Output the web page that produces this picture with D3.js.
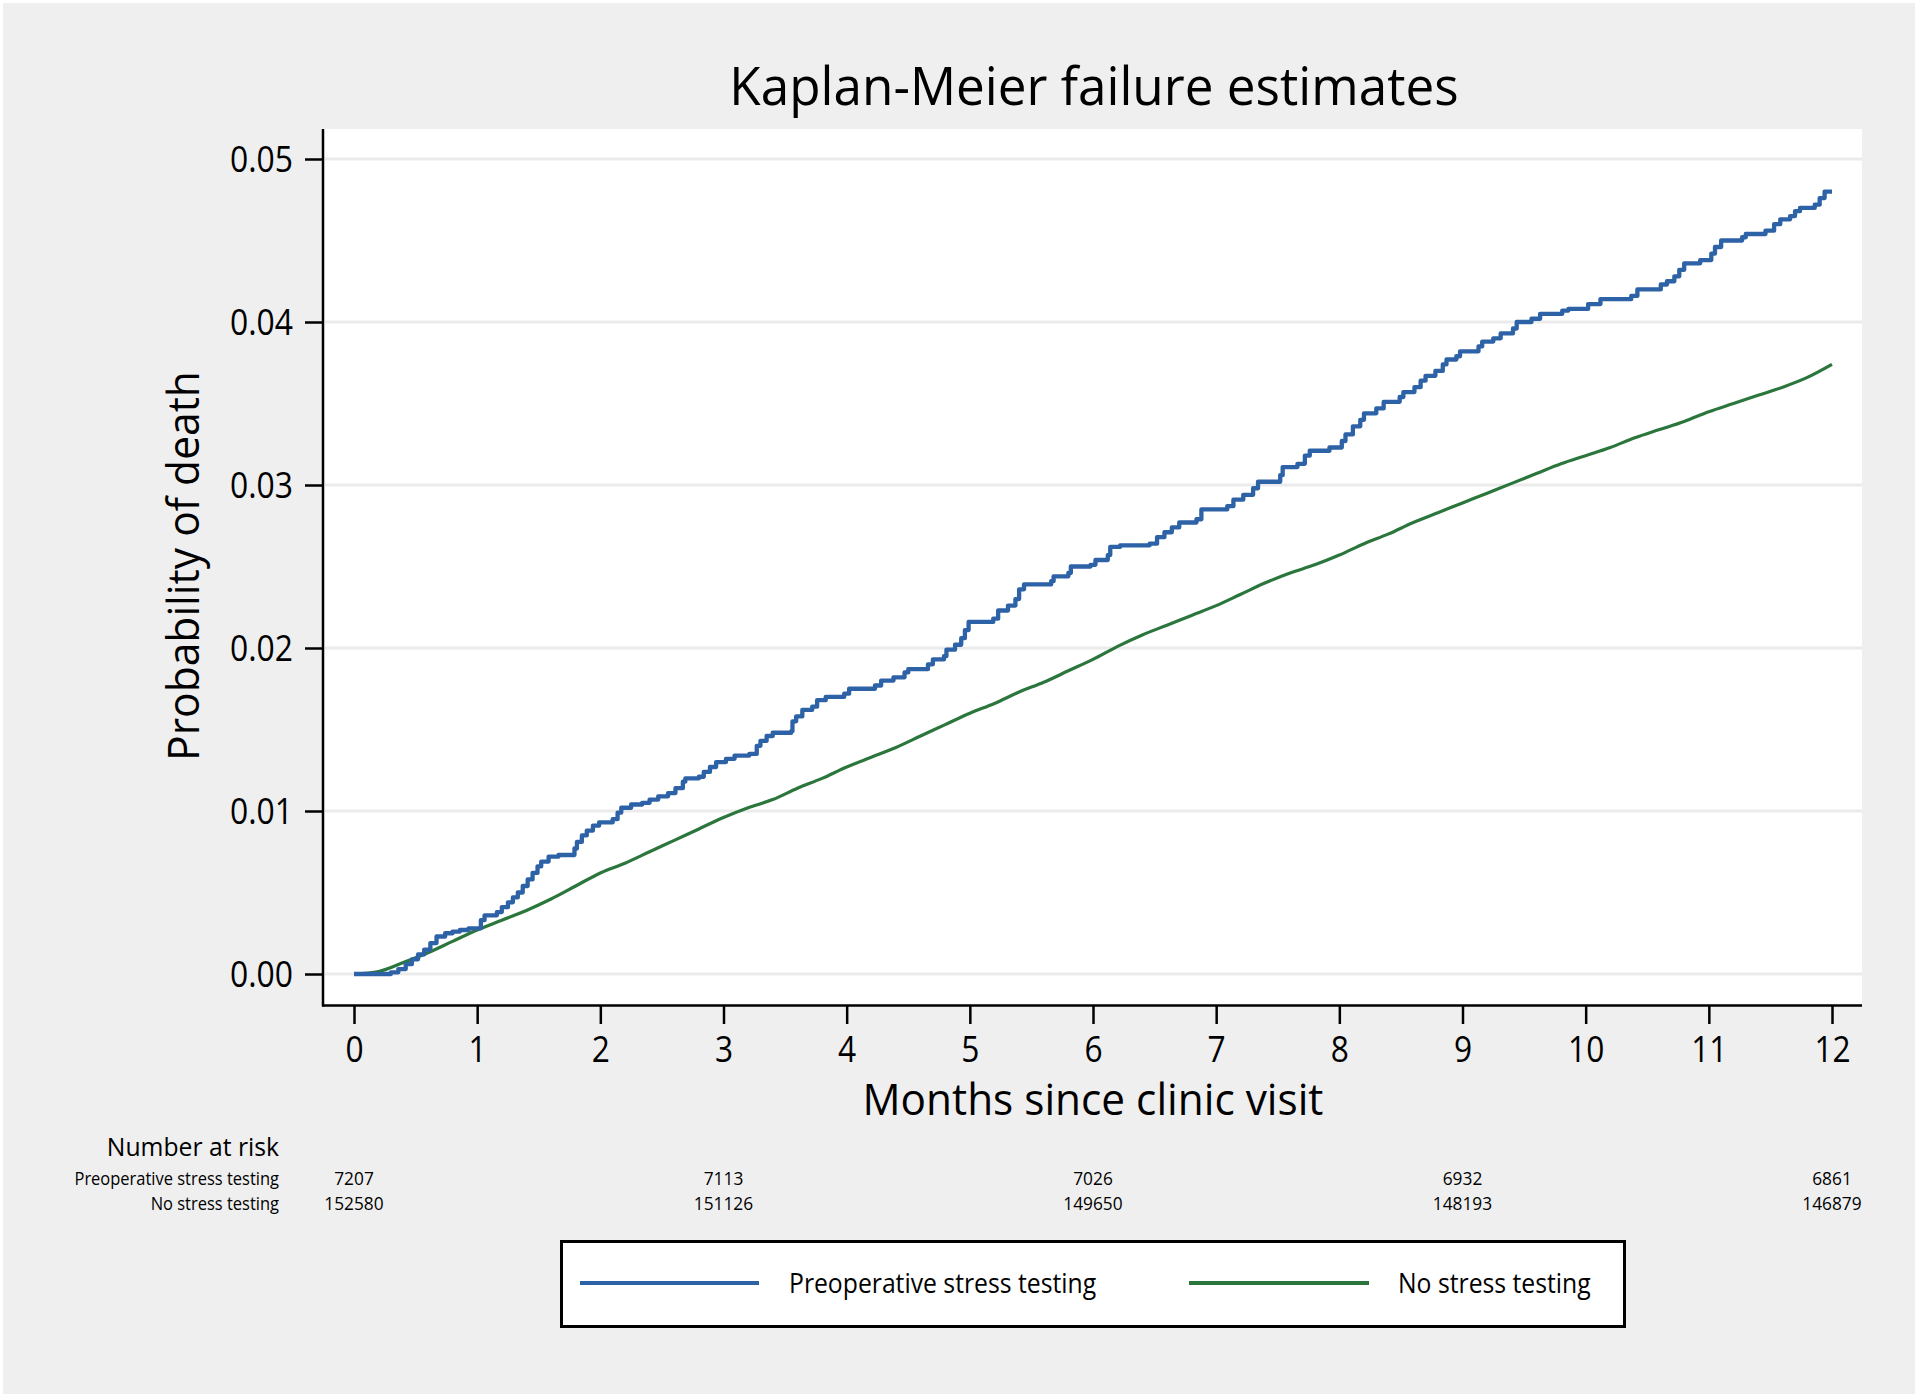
<!DOCTYPE html>
<html>
<head>
<meta charset="utf-8">
<script src="https://cdn.jsdelivr.net/npm/d3@7"></script>
<style>
  html, body { margin: 0; padding: 0; background: #ffffff; }
  svg { display: block; }
  text { font-family: "Open Sans", "Noto Sans", sans-serif; fill: #000; }
</style>
</head>
<body>
<svg id="chart" width="1920" height="1400"></svg>
<script>
// ---------------- DATA ----------------
const chartTitle = "Kaplan-Meier failure estimates";
const xAxisTitle = "Months since clinic visit";
const yAxisTitle = "Probability of death";
const seriesNames = ["Preoperative stress testing", "No stress testing"];

const xTicks = [0, 1, 2, 3, 4, 5, 6, 7, 8, 9, 10, 11, 12];
const yTicks = [0, 0.01, 0.02, 0.03, 0.04, 0.05];

// Preoperative stress testing: KM failure estimate (step function)
const stressTime = [0, 0.30, 0.36, 0.42, 0.47, 0.52, 0.57, 0.62, 0.67, 0.74, 0.80, 0.86, 0.93, 1.03, 1.06, 1.16, 1.20, 1.25, 1.29, 1.33, 1.37, 1.41, 1.45, 1.49, 1.52, 1.58, 1.66, 1.79, 1.81, 1.85, 1.89, 1.94, 1.99, 2.10, 2.14, 2.17, 2.25, 2.34, 2.40, 2.47, 2.55, 2.61, 2.67, 2.69, 2.80, 2.84, 2.89, 2.94, 3.02, 3.09, 3.21, 3.27, 3.30, 3.35, 3.40, 3.55, 3.56, 3.59, 3.64, 3.72, 3.76, 3.83, 3.98, 4.02, 4.23, 4.28, 4.38, 4.47, 4.50, 4.66, 4.70, 4.79, 4.81, 4.88, 4.93, 4.96, 4.99, 5.19, 5.23, 5.31, 5.37, 5.40, 5.44, 5.66, 5.68, 5.80, 5.82, 5.98, 6.02, 6.12, 6.14, 6.22, 6.46, 6.52, 6.58, 6.64, 6.70, 6.84, 6.88, 7.09, 7.14, 7.22, 7.30, 7.34, 7.52, 7.54, 7.66, 7.72, 7.76, 7.92, 8.02, 8.05, 8.11, 8.17, 8.20, 8.30, 8.36, 8.49, 8.52, 8.61, 8.66, 8.70, 8.78, 8.84, 8.87, 8.95, 8.98, 9.13, 9.16, 9.25, 9.31, 9.41, 9.44, 9.56, 9.63, 9.81, 9.86, 10.02, 10.12, 10.37, 10.42, 10.61, 10.66, 10.72, 10.76, 10.80, 10.93, 11.02, 11.05, 11.10, 11.27, 11.30, 11.46, 11.53, 11.58, 11.66, 11.70, 11.74, 11.86, 11.90, 11.94, 12.00];
const stressValue = [0, 0.0001, 0.0003, 0.0006, 0.0009, 0.0012, 0.0015, 0.0019, 0.0023, 0.0025, 0.0026, 0.0027, 0.0028, 0.0033, 0.0036, 0.0038, 0.0041, 0.0044, 0.0047, 0.0050, 0.0054, 0.0058, 0.0062, 0.0066, 0.0069, 0.0072, 0.0073, 0.0077, 0.0081, 0.0085, 0.0088, 0.0091, 0.0093, 0.0095, 0.0099, 0.0102, 0.0104, 0.0105, 0.0107, 0.0109, 0.0111, 0.0114, 0.0118, 0.0120, 0.0121, 0.0124, 0.0127, 0.0130, 0.0132, 0.0134, 0.0135, 0.0140, 0.0143, 0.0146, 0.0148, 0.0149, 0.0155, 0.0158, 0.0162, 0.0164, 0.0168, 0.0170, 0.0172, 0.0175, 0.0177, 0.0180, 0.0182, 0.0185, 0.0187, 0.0190, 0.0193, 0.0195, 0.0199, 0.0202, 0.0206, 0.0211, 0.0216, 0.0218, 0.0223, 0.0226, 0.0230, 0.0236, 0.0239, 0.0241, 0.0244, 0.0246, 0.0250, 0.0251, 0.0254, 0.0257, 0.0262, 0.0263, 0.0264, 0.0268, 0.0271, 0.0274, 0.0277, 0.0279, 0.0285, 0.0287, 0.0291, 0.0294, 0.0298, 0.0302, 0.0306, 0.0311, 0.0313, 0.0318, 0.0321, 0.0323, 0.0327, 0.0331, 0.0336, 0.0340, 0.0344, 0.0347, 0.0351, 0.0354, 0.0357, 0.0360, 0.0364, 0.0367, 0.0370, 0.0374, 0.0377, 0.0379, 0.0382, 0.0385, 0.0388, 0.0390, 0.0393, 0.0396, 0.0400, 0.0402, 0.0405, 0.0407, 0.0408, 0.0411, 0.0414, 0.0416, 0.0420, 0.0423, 0.0425, 0.0428, 0.0432, 0.0436, 0.0438, 0.0442, 0.0446, 0.0450, 0.0452, 0.0454, 0.0456, 0.0460, 0.0463, 0.0465, 0.0468, 0.0470, 0.0472, 0.0476, 0.0480, 0.0480];

// No stress testing: KM failure estimate
const noStressTime = [0, 0.2, 0.4, 0.6, 0.8, 1.0, 1.2, 1.4, 1.6, 1.8, 2.0, 2.2, 2.4, 2.6, 2.8, 3.0, 3.2, 3.4, 3.6, 3.8, 4.0, 4.2, 4.4, 4.6, 4.8, 5.0, 5.2, 5.4, 5.6, 5.8, 6.0, 6.2, 6.4, 6.6, 6.8, 7.0, 7.2, 7.4, 7.6, 7.8, 8.0, 8.2, 8.4, 8.6, 8.8, 9.0, 9.2, 9.4, 9.6, 9.8, 10.0, 10.2, 10.4, 10.6, 10.8, 11.0, 11.2, 11.4, 11.6, 11.8, 12.0];
const noStressValue = [0, 0.00015, 0.0007, 0.0013, 0.0020, 0.0027, 0.0033, 0.0039, 0.0046, 0.0054, 0.0062, 0.0068, 0.0075, 0.0082, 0.0089, 0.0096, 0.0102, 0.0107, 0.0114, 0.0120, 0.0127, 0.0133, 0.0139, 0.0146, 0.0153, 0.0160, 0.0166, 0.0173, 0.0179, 0.0186, 0.0193, 0.0201, 0.0208, 0.0214, 0.0220, 0.0226, 0.0233, 0.0240, 0.0246, 0.0251, 0.0257, 0.0264, 0.0270, 0.0277, 0.0283, 0.0289, 0.0295, 0.0301, 0.0307, 0.0313, 0.0318, 0.0323, 0.0329, 0.0334, 0.0339, 0.0345, 0.0350, 0.0355, 0.0360, 0.0366, 0.0374];

// Number at risk table
const riskMonths = [0, 3, 6, 9, 12];
const riskStress = [7207, 7113, 7026, 6932, 6861];
const riskNoStress = [152580, 151126, 149650, 148193, 146879];

// ---------------- STYLE / LAYOUT ----------------
const colors = ["#2d62a6", "#2b763c"];
const bgColor = "#efefef";
const gridColor = "#ebebeb";

const plot = { left: 323, right: 1862, top: 129, bottom: 1005 };

const svg = d3.select("#chart");

function narrow(sel, k) {
  sel.each(function () {
    const w = this.getComputedTextLength();
    d3.select(this).attr("textLength", w * k).attr("lengthAdjust", "spacingAndGlyphs");
  });
}

// background
svg.append("rect").attr("x", 0).attr("y", 0).attr("width", 1920).attr("height", 1400).attr("fill", "#ffffff");
svg.append("rect").attr("x", 3).attr("y", 3).attr("width", 1912).attr("height", 1391).attr("fill", bgColor);

// plot region
svg.append("rect")
  .attr("x", plot.left).attr("y", plot.top)
  .attr("width", plot.right - plot.left).attr("height", plot.bottom - plot.top)
  .attr("fill", "#ffffff");

const x = d3.scaleLinear().domain([0, 12]).range([354, 1832]);
const y = d3.scaleLinear().domain([0, 0.05]).range([974, 159]);

// gridlines
svg.append("g").selectAll("line").data(yTicks).join("line")
  .attr("x1", plot.left + 2).attr("x2", plot.right)
  .attr("y1", d => y(d)).attr("y2", d => y(d))
  .attr("stroke", gridColor).attr("stroke-width", 3);

// series
const stressData = stressTime.map((t, i) => [t, stressValue[i]]);
const noStressData = noStressTime.map((t, i) => [t, noStressValue[i]]);

const stepLine = d3.line().x(d => x(d[0])).y(d => y(d[1])).curve(d3.curveStepAfter);
const smoothLine = d3.line().x(d => x(d[0])).y(d => y(d[1])).curve(d3.curveMonotoneX);

svg.append("path").datum(noStressData)
  .attr("d", smoothLine).attr("fill", "none")
  .attr("stroke", colors[1]).attr("stroke-width", 3.2).attr("stroke-linejoin", "round");

svg.append("path").datum(stressData)
  .attr("d", stepLine).attr("fill", "none")
  .attr("stroke", colors[0]).attr("stroke-width", 4.3).attr("stroke-linejoin", "round");

// axes
const yAxis = d3.axisLeft(y).tickValues(yTicks).tickFormat(d3.format(".2f"))
  .tickSize(18).tickSizeOuter(0).tickPadding(12);
const gy = svg.append("g").attr("transform", `translate(${plot.left},0)`).call(yAxis);
gy.select(".domain").remove();
gy.selectAll(".tick line").attr("stroke", "#000").attr("stroke-width", 2.5);
gy.selectAll(".tick text").attr("font-size", 37).attr("font-family", "Open Sans").attr("fill", "#000")
  .attr("dy", "0.34em");
narrow(gy.selectAll(".tick text"), 0.86);

const xAxis = d3.axisBottom(x).tickValues(xTicks).tickFormat(d3.format("d"))
  .tickSize(18).tickSizeOuter(0).tickPadding(12);
const gx = svg.append("g").attr("transform", `translate(0,${plot.bottom + 1})`).call(xAxis);
gx.select(".domain").remove();
gx.selectAll(".tick line").attr("stroke", "#000").attr("stroke-width", 2.5);
gx.selectAll(".tick text").attr("font-size", 36).attr("font-family", "Open Sans").attr("fill", "#000");
narrow(gx.selectAll(".tick text"), 0.88);

// axis lines
svg.append("line").attr("x1", plot.left).attr("x2", plot.left)
  .attr("y1", plot.top).attr("y2", plot.bottom + 1.5)
  .attr("stroke", "#000").attr("stroke-width", 2.5);
svg.append("line").attr("x1", plot.left - 1).attr("x2", plot.right)
  .attr("y1", plot.bottom + 0.5).attr("y2", plot.bottom + 0.5)
  .attr("stroke", "#000").attr("stroke-width", 2.5);

// titles
const title = svg.append("text").attr("x", 1094).attr("y", 105)
  .attr("text-anchor", "middle").attr("font-size", 53).text(chartTitle);
narrow(title, 0.967);

const xt = svg.append("text").attr("x", 1093).attr("y", 1115)
  .attr("text-anchor", "middle").attr("font-size", 44).text(xAxisTitle);
narrow(xt, 0.962);

const yt = svg.append("text")
  .attr("transform", "translate(199,566) rotate(-90)")
  .attr("text-anchor", "middle").attr("font-size", 44).text(yAxisTitle);
narrow(yt, 0.967);

// number at risk table
const nar = svg.append("text").attr("x", 279).attr("y", 1156)
  .attr("text-anchor", "end").attr("font-size", 26).text("Number at risk");
narrow(nar, 0.95);

const rowY = [1185, 1210];
[riskStress, riskNoStress].forEach((row, r) => {
  const lab = svg.append("text").attr("x", 279).attr("y", rowY[r])
    .attr("text-anchor", "end").attr("font-size", 18).text(seriesNames[r]);
  narrow(lab, 0.915);
  const nums = svg.append("g").selectAll("text").data(row).join("text")
    .attr("x", (d, i) => x(riskMonths[i])).attr("y", rowY[r])
    .attr("text-anchor", "middle").attr("font-size", 18).text(d => d);
  narrow(nums, 0.96);
});

// legend
const lg = svg.append("g");
lg.append("rect").attr("x", 561.5).attr("y", 1241.5).attr("width", 1063).attr("height", 85)
  .attr("fill", "#ffffff").attr("stroke", "#000").attr("stroke-width", 3);
const legendItems = [
  { lx1: 580, lx2: 759, tx: 789 },
  { lx1: 1189, lx2: 1369, tx: 1398 }
];
legendItems.forEach((it, i) => {
  lg.append("line").attr("x1", it.lx1).attr("x2", it.lx2).attr("y1", 1283).attr("y2", 1283)
    .attr("stroke", colors[i]).attr("stroke-width", 4);
  const t = lg.append("text").attr("x", it.tx).attr("y", 1293).attr("font-size", 27).text(seriesNames[i]);
  narrow(t, 0.916);
});
</script>
</body>
</html>
